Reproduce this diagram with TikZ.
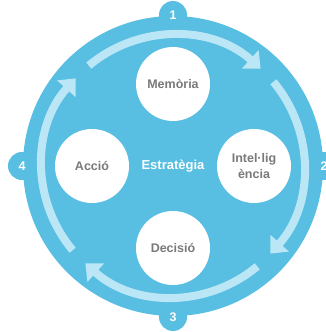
\documentclass[tikz,border=0pt]{standalone}
\usepackage{fontspec}
\setmainfont{Liberation Sans}
\usetikzlibrary{arrows.meta}

\definecolor{ringblue}{HTML}{58BEE2}
\definecolor{arcblue}{HTML}{BAE6F6}
\definecolor{labelgrey}{HTML}{7A7A7A}

\tikzset{
  topic/.style={circle, fill=white, minimum size=74pt, inner sep=0pt,
    text=labelgrey, font=\bfseries\fontsize{12.5}{16}\selectfont, align=center},
  badge/.style={circle, fill=ringblue, minimum size=28pt, inner sep=0pt,
    text=white, font=\bfseries\fontsize{12.5}{15}\selectfont},
  cyclearc/.style={draw=arcblue, line width=8pt,
    -{Triangle[width=24pt,length=14pt]}}
}

\begin{document}
\begin{tikzpicture}[x=1pt,y=1pt]

    % Fix the frame of the picture
    \useasboundingbox (-173,-166) rectangle (153,166);

    % Define the center of the big circle
    \coordinate (O) at (0,0);

    % Draw the numbered badges behind the circle
    \node[badge] (n1) at (90:151) {};
    \node[badge] (n2) at (0:151) {};
    \node[badge] (n3) at (-90:151) {};
    \node[badge] (n4) at (180:151) {};

    % Draw the big circle
    \fill[ringblue] (O) circle (150);

    % Numbers on the badges
    \node[text=white, font=\bfseries\fontsize{12.5}{15}\selectfont] at (90:151) {1};
    \node[text=white, font=\bfseries\fontsize{12.5}{15}\selectfont] at (0:151) {2};
    \node[text=white, font=\bfseries\fontsize{12.5}{15}\selectfont] at (-90:151) {3};
    \node[text=white, font=\bfseries\fontsize{12.5}{15}\selectfont] at (180:151) {4};

    % Draw the four arrows of the cycle
    \draw[cyclearc] (130:131) arc (130:48:131);
    \draw[cyclearc] (40:131) arc (40:-42:131);
    \draw[cyclearc] (-50:131) arc (-50:-132:131);
    \draw[cyclearc] (-140:131) arc (-140:-222:131);

    % Draw the four topics
    \node[topic] (mem) at (90:82) {Memòria};
    \node[topic] (int) at (0:81) {Intel·lig\\ència};
    \node[topic] (dec) at (-90:82) {Decisió};
    \node[topic] (acc) at (180:81) {Acció};

    % Label in the middle
    \node[text=white, font=\bfseries\fontsize{13}{15}\selectfont] (est) at (O) {Estratègia};

\end{tikzpicture}
\end{document}
